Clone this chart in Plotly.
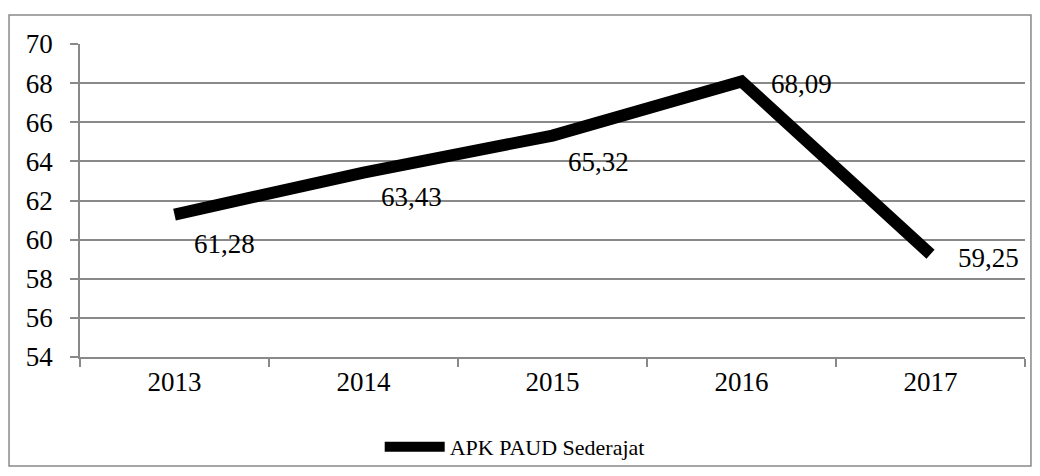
import plotly.graph_objects as go

years = ["2013", "2014", "2015", "2016", "2017"]
apk_paud = [61.28, 63.43, 65.32, 68.09, 59.25]
labels = ["61,28", "63,43", "65,32", "68,09", "59,25"]
series_name = "APK PAUD Sederajat"

FONT = "Liberation Serif"
GRID = "#898989"
NUM = 27

fig = go.Figure()
fig.add_trace(go.Scatter(
    x=years, y=apk_paud, mode="lines", name=series_name,
    line=dict(color="black", width=12),
    showlegend=True,
))

# data labels sit a little right of / below each point (as in the source)
shifts = [(17, -29), (15, -24), (13, -26), (27, -3), (25, -4)]
for i, (v, lab, (dx, dy)) in enumerate(zip(apk_paud, labels, shifts)):
    fig.add_annotation(x=i, y=v, text=lab, showarrow=False,
                       xref="x", yref="y",
                       xanchor="left", yanchor="middle",
                       xshift=dx, yshift=dy,
                       font=dict(family=FONT, size=NUM, color="black"))

# outer chart border
fig.add_shape(type="rect", xref="paper", yref="paper",
              x0=-0.0751, x1=1.0063, y0=-0.348, y1=1.0927,
              line=dict(color=GRID, width=1.5), layer="below")

fig.update_xaxes(
    type="category", showgrid=False,
    showline=True, linecolor=GRID, linewidth=1.5,
    ticks="outside", tickson="boundaries", ticklen=8, tickcolor=GRID, tickwidth=1.5,
    tickfont=dict(family=FONT, size=NUM, color="black"),
    range=[-0.5, 4.5],
)
fig.update_yaxes(
    range=[54, 70], dtick=2, tick0=54,
    showgrid=True, gridcolor=GRID, gridwidth=1.5,
    showline=True, linecolor=GRID, linewidth=1.5,
    ticks="outside", ticklen=8, tickcolor=GRID, tickwidth=1.5,
    ticklabelstandoff=12,
    tickfont=dict(family=FONT, size=NUM, color="black"),
    zeroline=False,
)

fig.update_layout(
    width=1040, height=476,
    margin=dict(l=80, r=15, t=44, b=119, autoexpand=False),
    plot_bgcolor="white", paper_bgcolor="white",
    font=dict(family=FONT, size=NUM, color="black"),
    legend=dict(orientation="h", x=0.46, xanchor="center", y=-0.2875, yanchor="middle",
                bgcolor="rgba(0,0,0,0)",
                font=dict(family=FONT, size=22, color="black"),
                itemwidth=60),
)

fig.write_html("out.html", config={"displayModeBar": False},
               post_script="document.body.style.margin='0';")
